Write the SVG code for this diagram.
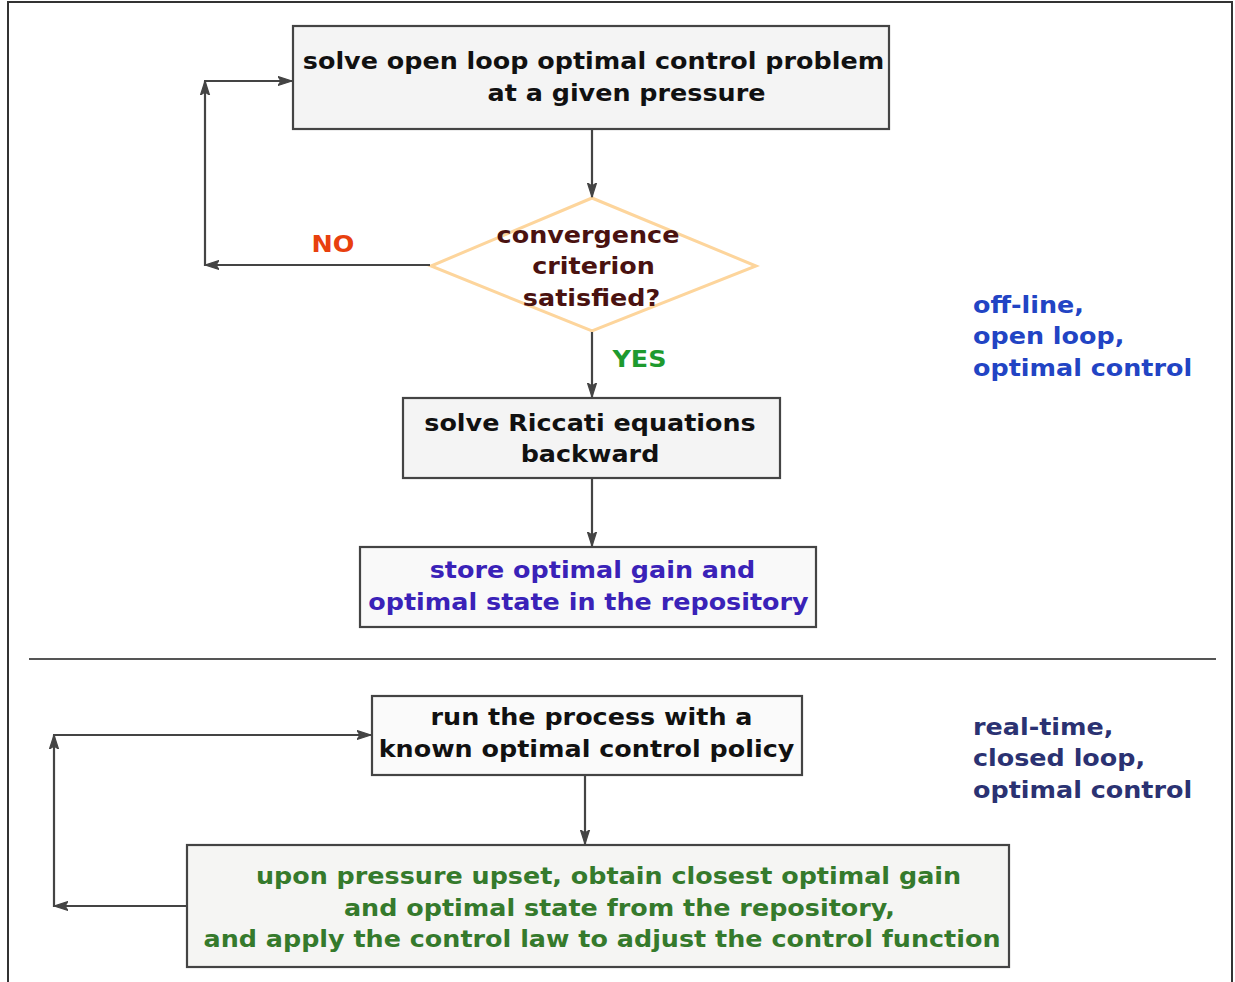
<svg xmlns="http://www.w3.org/2000/svg" width="1235" height="982" viewBox="0 0 1235 982">
<defs>
<marker id="arr" markerUnits="userSpaceOnUse" viewBox="0 0 15 11" markerWidth="15" markerHeight="11" refX="14" refY="5.5" orient="auto">
<path d="M0,1 L14,5.5 L0,10 L3,5.5 Z" fill="#444" stroke="#444" stroke-width="1.2" stroke-linejoin="round"/>
</marker>
</defs>
<style>
text{font-family:"DejaVu Sans","Liberation Sans",sans-serif;font-weight:bold;font-size:22.5px;text-anchor:middle}
.box{stroke:#444;stroke-width:2.2}
.conn line{stroke:#444;stroke-width:2.2;marker-end:url(#arr)}
.blk{fill:#111}
.side{text-anchor:start}
</style>
<rect x="0" y="0" width="1235" height="982" fill="#fff"/>
<rect x="8" y="2" width="1224" height="1000" fill="none" stroke="#333" stroke-width="2"/>
<line x1="29" y1="659" x2="1216" y2="659" stroke="#555" stroke-width="2"/>

<g id="n1">
<rect class="box" x="293" y="26" width="596" height="103" fill="#f4f4f4"/>
<text class="blk" transform="translate(593.5,69) scale(1.13,1)">solve open loop optimal control problem</text>
<text class="blk" transform="translate(626.5,101) scale(1.13,1)">at a given pressure</text>
</g>

<g id="n2">
<polygon points="592,198 756,266 592,331 431,266" fill="#fff" stroke="#fdd59c" stroke-width="3"/>
<text fill="#4a1210" transform="translate(588,243) scale(1.13,1)">convergence</text>
<text fill="#4a1210" transform="translate(593.5,274) scale(1.13,1)">criterion</text>
<text fill="#4a1210" transform="translate(591.5,306) scale(1.13,1)">satisfied?</text>
</g>

<g id="n3">
<rect class="box" x="403" y="398" width="377" height="80" fill="#f4f4f4"/>
<text class="blk" transform="translate(590,431) scale(1.13,1)">solve Riccati equations</text>
<text class="blk" transform="translate(590,462) scale(1.13,1)">backward</text>
</g>

<g id="n4">
<rect class="box" x="360" y="547" width="456" height="80" fill="#f9f9f9"/>
<text fill="#3a22b8" transform="translate(592.5,578) scale(1.13,1)">store optimal gain and</text>
<text fill="#3a22b8" transform="translate(588.5,610) scale(1.13,1)">optimal state in the repository</text>
</g>

<g id="n5">
<rect class="box" x="372" y="696" width="430" height="79" fill="#fafafa"/>
<text class="blk" transform="translate(591.5,725) scale(1.13,1)">run the process with a</text>
<text class="blk" transform="translate(586.5,757) scale(1.13,1)">known optimal control policy</text>
</g>

<g id="n6">
<rect class="box" x="187" y="845" width="822" height="122" fill="#f5f5f3"/>
<text fill="#357a2c" transform="translate(608.5,884) scale(1.13,1)">upon pressure upset, obtain closest optimal gain</text>
<text fill="#357a2c" transform="translate(619.5,916) scale(1.13,1)">and optimal state from the repository,</text>
<text fill="#357a2c" transform="translate(602,947) scale(1.13,1)">and apply the control law to adjust the control function</text>
</g>

<g id="labels">
<text fill="#e8400e" transform="translate(333,252) scale(1.13,1)">NO</text>
<text fill="#1e9a2e" transform="translate(639.5,367) scale(1.13,1)">YES</text>
<text class="side" fill="#2244c4" transform="translate(973,313) scale(1.13,1)">off-line,</text>
<text class="side" fill="#2244c4" transform="translate(973,344) scale(1.13,1)">open loop,</text>
<text class="side" fill="#2244c4" transform="translate(973,376) scale(1.13,1)">optimal control</text>
<text class="side" fill="#2b3272" transform="translate(973,735) scale(1.13,1)">real-time,</text>
<text class="side" fill="#2b3272" transform="translate(973,766) scale(1.13,1)">closed loop,</text>
<text class="side" fill="#2b3272" transform="translate(973,798) scale(1.13,1)">optimal control</text>
</g>

<g id="connectors" class="conn">
<line x1="592" y1="130" x2="592" y2="197"/>
<line x1="592" y1="332" x2="592" y2="397"/>
<line x1="592" y1="479" x2="592" y2="546"/>
<line x1="585" y1="776" x2="585" y2="844"/>
<line x1="430" y1="265" x2="205" y2="265"/>
<line x1="205" y1="266" x2="205" y2="81"/>
<line x1="204" y1="81" x2="292" y2="81"/>
<line x1="186" y1="906" x2="54" y2="906"/>
<line x1="54" y1="907" x2="54" y2="735"/>
<line x1="53" y1="735" x2="371" y2="735"/>
</g>
</svg>
